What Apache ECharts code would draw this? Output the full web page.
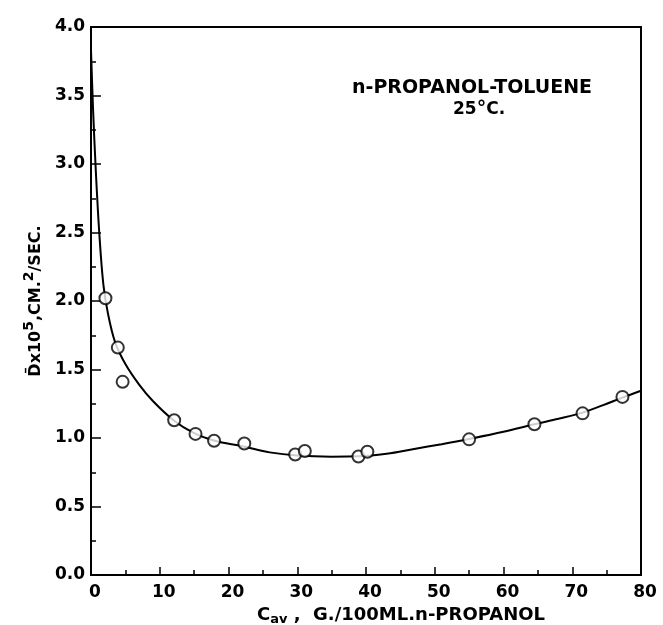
<!DOCTYPE html>
<html>
<head>
<meta charset="utf-8">
<script src="https://cdn.jsdelivr.net/npm/echarts@6/dist/echarts.min.js"></script>
<style>
  html, body { margin: 0; padding: 0; background: #fff; }
  #chart { width: 663px; height: 625px; }
</style>
</head>
<body>
<div id="chart"></div>
<script>
// measured points (open circles)
const conc = [2.1, 3.9, 4.6, 12.1, 15.2, 17.9, 22.3, 29.7, 31.1, 38.9, 40.2, 55.0, 64.5, 71.5, 77.3];
const diffCoef = [2.02, 1.66, 1.41, 1.13, 1.03, 0.98, 0.96, 0.88, 0.905, 0.865, 0.90, 0.99, 1.10, 1.18, 1.30];

// smooth curve drawn through the data
const curveX = [0, 0.3, 0.7, 1.2, 1.8, 2.5, 3.5, 5, 7, 9, 12, 15, 18, 22, 26, 30, 35, 39, 43, 47, 51, 55, 60, 64.5, 68, 71.5, 74.5, 77.3, 80];
const curveY = [3.83, 3.4, 2.95, 2.5, 2.12, 1.9, 1.7, 1.54, 1.39, 1.27, 1.13, 1.035, 0.98, 0.94, 0.895, 0.872, 0.864, 0.866, 0.885, 0.92, 0.955, 0.993, 1.045, 1.10, 1.14, 1.185, 1.24, 1.295, 1.345];

const FONT = 'DejaVu Sans';
const INK = '#000';

const chart = echarts.init(document.getElementById('chart'), null, { renderer: 'canvas' });

chart.setOption({
  animation: false,
  backgroundColor: '#fff',
  grid: {
    left: 91, right: 22, top: 27, bottom: 50,
    outerBoundsMode: 'none',
    show: true, borderColor: INK, borderWidth: 2, backgroundColor: 'transparent'
  },
  xAxis: {
    type: 'value',
    min: 0, max: 80, interval: 10,
    axisLine: { lineStyle: { color: INK, width: 2 } },
    axisTick: { inside: true, length: 8, lineStyle: { color: INK, width: 1.5 } },
    minorTick: { show: true, splitNumber: 2, length: 5, lineStyle: { color: INK, width: 1.5 } },
    splitLine: { show: false },
    axisLabel: {
      color: INK, fontFamily: FONT, fontWeight: 'bold', fontSize: 17, margin: 9,
      padding: [0, 0, 0, 8]
    }
  },
  yAxis: {
    type: 'value',
    min: 0, max: 4, interval: 0.5,
    axisLine: { lineStyle: { color: INK, width: 2 } },
    axisTick: { inside: true, length: 10, lineStyle: { color: INK, width: 1.5 } },
    minorTick: { show: true, splitNumber: 2, length: 5, lineStyle: { color: INK, width: 1.5 } },
    splitLine: { show: false },
    axisLabel: {
      color: INK, fontFamily: FONT, fontWeight: 'bold', fontSize: 17, margin: 6,
      formatter: (v) => v.toFixed(1)
    },
    name: '{t|D\u0304x10}{sup|5}{t|,CM.}{sup|2}{t|/SEC.}',
    nameLocation: 'middle',
    nameRotate: 90,
    nameGap: 41,
    nameTextStyle: {
      color: INK, fontFamily: FONT, fontWeight: 'bold',
      rich: {
        t: { fontSize: 16, fontFamily: FONT, fontWeight: 'bold', color: INK },
        sup: { fontSize: 14, fontFamily: FONT, fontWeight: 'bold', color: INK, padding: [0, 0, 13, 0] }
      }
    }
  },
  graphic: [
    {
      type: 'text', left: 352, top: 79,
      style: { text: 'n-PROPANOL-TOLUENE', fill: INK, font: 'bold 19px "DejaVu Sans"' }
    },
    {
      type: 'text', left: 453, top: 100,
      style: {
        text: '{a|25}{d|°}{a|C.}',
        rich: {
          a: { fontSize: 17, fontFamily: FONT, fontWeight: 'bold', fill: INK },
          d: { fontSize: 19, fontFamily: FONT, fontWeight: 'bold', fill: INK }
        }
      }
    },
    {
      type: 'text', left: 257, top: 606,
      style: {
        text: '{c|C}{sub|av}{t| ,  G./100ML.n-PROPANOL}',
        rich: {
          c: { fontSize: 18, fontFamily: FONT, fontWeight: 'bold', fill: INK },
          sub: { fontSize: 13, fontFamily: FONT, fontWeight: 'bold', fill: INK, padding: [9, 0, 0, 0] },
          t: { fontSize: 18, fontFamily: FONT, fontWeight: 'bold', fill: INK }
        }
      }
    }
  ],
  series: [
    {
      type: 'line',
      data: curveX.map((x, i) => [x, curveY[i]]),
      smooth: 0.35,
      showSymbol: false,
      lineStyle: { color: INK, width: 2 },
      z: 2
    },
    {
      type: 'scatter',
      data: conc.map((x, i) => [x, diffCoef[i]]),
      symbol: 'circle',
      symbolSize: 12,
      itemStyle: { color: '#fff', borderColor: INK, borderWidth: 2 },
      z: 3
    }
  ]
});
</script>
</body>
</html>
